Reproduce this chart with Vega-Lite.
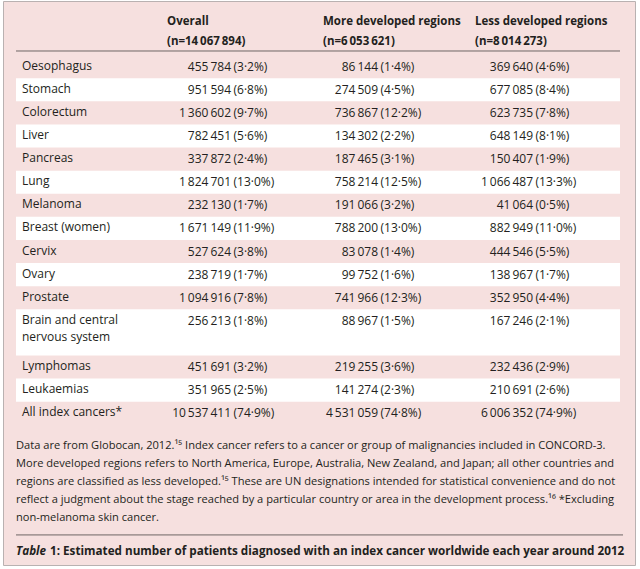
{
  "$schema": "https://vega.github.io/schema/vega-lite/v6.json",
  "width": 632,
  "height": 564,
  "autosize": {"type": "none"},
  "padding": {"left": 3, "top": 1, "right": 5, "bottom": 4},
  "background": "#ffffff",
  "config": {
    "view": {"fill": "#f6e0df", "stroke": "#b9b1b1", "strokeWidth": 1},
    "locale": {"number": {"decimal": "·", "thousands": "\u2009", "grouping": [3], "currency": ["", ""]}},
    "text": {"font": "Open Sans", "fontSize": 12, "fill": "#231f20"}
  },
  "datasets": {
    "cancers": [
      {"row": 1, "line": 1, "lines": 1, "label": "Oesophagus", "overall": 455784, "overall_pct": 3.2, "more": 86144, "more_pct": 1.4, "less": 369640, "less_pct": 4.6},
      {"row": 2, "line": 2, "lines": 1, "label": "Stomach", "overall": 951594, "overall_pct": 6.8, "more": 274509, "more_pct": 4.5, "less": 677085, "less_pct": 8.4},
      {"row": 3, "line": 3, "lines": 1, "label": "Colorectum", "overall": 1360602, "overall_pct": 9.7, "more": 736867, "more_pct": 12.2, "less": 623735, "less_pct": 7.8},
      {"row": 4, "line": 4, "lines": 1, "label": "Liver", "overall": 782451, "overall_pct": 5.6, "more": 134302, "more_pct": 2.2, "less": 648149, "less_pct": 8.1},
      {"row": 5, "line": 5, "lines": 1, "label": "Pancreas", "overall": 337872, "overall_pct": 2.4, "more": 187465, "more_pct": 3.1, "less": 150407, "less_pct": 1.9},
      {"row": 6, "line": 6, "lines": 1, "label": "Lung", "overall": 1824701, "overall_pct": 13.0, "more": 758214, "more_pct": 12.5, "less": 1066487, "less_pct": 13.3},
      {"row": 7, "line": 7, "lines": 1, "label": "Melanoma", "overall": 232130, "overall_pct": 1.7, "more": 191066, "more_pct": 3.2, "less": 41064, "less_pct": 0.5},
      {"row": 8, "line": 8, "lines": 1, "label": "Breast (women)", "overall": 1671149, "overall_pct": 11.9, "more": 788200, "more_pct": 13.0, "less": 882949, "less_pct": 11.0},
      {"row": 9, "line": 9, "lines": 1, "label": "Cervix", "overall": 527624, "overall_pct": 3.8, "more": 83078, "more_pct": 1.4, "less": 444546, "less_pct": 5.5},
      {"row": 10, "line": 10, "lines": 1, "label": "Ovary", "overall": 238719, "overall_pct": 1.7, "more": 99752, "more_pct": 1.6, "less": 138967, "less_pct": 1.7},
      {"row": 11, "line": 11, "lines": 1, "label": "Prostate", "overall": 1094916, "overall_pct": 7.8, "more": 741966, "more_pct": 12.3, "less": 352950, "less_pct": 4.4},
      {"row": 12, "line": 12, "lines": 2, "label": "Brain and central\nnervous system", "overall": 256213, "overall_pct": 1.8, "more": 88967, "more_pct": 1.5, "less": 167246, "less_pct": 2.1},
      {"row": 13, "line": 14, "lines": 1, "label": "Lymphomas", "overall": 451691, "overall_pct": 3.2, "more": 219255, "more_pct": 3.6, "less": 232436, "less_pct": 2.9},
      {"row": 14, "line": 15, "lines": 1, "label": "Leukaemias", "overall": 351965, "overall_pct": 2.5, "more": 141274, "more_pct": 2.3, "less": 210691, "less_pct": 2.6},
      {"row": 15, "line": 16, "lines": 1, "label": "All index cancers*", "overall": 10537411, "overall_pct": 74.9, "more": 4531059, "more_pct": 74.8, "less": 6006352, "less_pct": 74.9}
    ],
    "regions": [
      {"region": "Overall", "n": 14067894},
      {"region": "More developed regions", "n": 6053621},
      {"region": "Less developed regions", "n": 8014273}
    ],
    "notes": [
      {"text": "Data are from Globocan, 2012.¹⁵ Index cancer refers to a cancer or group of malignancies included in CONCORD-3.\nMore developed regions refers to North America, Europe, Australia, New Zealand, and Japan; all other countries and\nregions are classified as less developed.¹⁵ These are UN designations intended for statistical convenience and do not\nreflect a judgment about the stage reached by a particular country or area in the development process.¹⁶ *Excluding\nnon-melanoma skin cancer."}
    ],
    "caption": [
      {"tag": "Table", "rest": "1: Estimated number of patients diagnosed with an index cancer worldwide each year around 2012"}
    ],
    "blank": [{}]
  },
  "data": {"name": "cancers"},
  "layer": [
    {
      "transform": [
        {"filter": "datum.row % 2 == 0"},
        {"calculate": "datum.line - 0.5", "as": "top"},
        {"calculate": "datum.line + datum.lines - 0.5", "as": "bottom"}
      ],
      "mark": {"type": "rect", "fill": "#ffffff"},
      "encoding": {
        "x": {"datum": 0, "type": "quantitative", "scale": {"domain": [0, 4], "range": [13, 617], "nice": false, "zero": false}, "axis": null},
        "x2": {"datum": 4},
        "y": {"field": "top", "type": "quantitative", "scale": {"domain": [-2, 22], "range": [-3.6, 550.8], "nice": false, "zero": false}, "axis": null},
        "y2": {"field": "bottom"}
      }
    },
    {
      "data": {"name": "blank"},
      "mark": {"type": "rule", "stroke": "#6d6565", "strokeWidth": 1},
      "encoding": {
        "x": {"datum": 0, "type": "quantitative"},
        "x2": {"datum": 4},
        "y": {"datum": 0.32, "type": "quantitative"}
      }
    },
    {
      "data": {"name": "blank"},
      "mark": {"type": "rule", "stroke": "#6d6565", "strokeWidth": 1},
      "encoding": {
        "x": {"datum": 0, "type": "quantitative"},
        "x2": {"datum": 4.02},
        "y": {"datum": 21.27, "type": "quantitative"}
      }
    },
    {
      "mark": {"type": "text", "align": "left", "baseline": "top", "dx": 6, "dy": -6, "lineBreak": "\n", "lineHeight": 17},
      "encoding": {
        "x": {"datum": 0, "type": "quantitative"},
        "y": {"field": "line", "type": "quantitative"},
        "text": {"field": "label", "type": "nominal"}
      }
    },
    {
      "mark": {"type": "text", "align": "right", "baseline": "middle", "dx": 64},
      "encoding": {
        "x": {"datum": 1, "type": "quantitative"},
        "y": {"field": "line", "type": "quantitative"},
        "text": {"field": "overall", "type": "quantitative", "format": ","}
      }
    },
    {
      "transform": [{"calculate": "'(' + format(datum.overall_pct, '.1f') + '%)'", "as": "p"}],
      "mark": {"type": "text", "align": "left", "baseline": "middle", "dx": 66.5},
      "encoding": {
        "x": {"datum": 1, "type": "quantitative"},
        "y": {"field": "line", "type": "quantitative"},
        "text": {"field": "p", "type": "nominal"}
      }
    },
    {
      "mark": {"type": "text", "align": "right", "baseline": "middle", "dx": 60},
      "encoding": {
        "x": {"datum": 2, "type": "quantitative"},
        "y": {"field": "line", "type": "quantitative"},
        "text": {"field": "more", "type": "quantitative", "format": ","}
      }
    },
    {
      "transform": [{"calculate": "'(' + format(datum.more_pct, '.1f') + '%)'", "as": "p"}],
      "mark": {"type": "text", "align": "left", "baseline": "middle", "dx": 62.5},
      "encoding": {
        "x": {"datum": 2, "type": "quantitative"},
        "y": {"field": "line", "type": "quantitative"},
        "text": {"field": "p", "type": "nominal"}
      }
    },
    {
      "mark": {"type": "text", "align": "right", "baseline": "middle", "dx": 64},
      "encoding": {
        "x": {"datum": 3, "type": "quantitative"},
        "y": {"field": "line", "type": "quantitative"},
        "text": {"field": "less", "type": "quantitative", "format": ","}
      }
    },
    {
      "transform": [{"calculate": "'(' + format(datum.less_pct, '.1f') + '%)'", "as": "p"}],
      "mark": {"type": "text", "align": "left", "baseline": "middle", "dx": 66.5},
      "encoding": {
        "x": {"datum": 3, "type": "quantitative"},
        "y": {"field": "line", "type": "quantitative"},
        "text": {"field": "p", "type": "nominal"}
      }
    },
    {
      "data": {"name": "regions"},
      "transform": [
        {"filter": "datum.region == 'Overall'"},
        {"calculate": "datum.region + '\\n(n=' + format(datum.n, ',') + ')'", "as": "h"}
      ],
      "mark": {"type": "text", "align": "left", "baseline": "top", "dy": -4.5, "fontSize": 11.5, "fontWeight": "bold", "lineBreak": "\n", "lineHeight": 20},
      "encoding": {
        "x": {"datum": 1, "type": "quantitative"},
        "y": {"datum": -1, "type": "quantitative"},
        "text": {"field": "h", "type": "nominal"}
      }
    },
    {
      "data": {"name": "regions"},
      "transform": [
        {"filter": "datum.region == 'More developed regions'"},
        {"calculate": "datum.region + '\\n(n=' + format(datum.n, ',') + ')'", "as": "h"}
      ],
      "mark": {"type": "text", "align": "left", "baseline": "top", "dx": 5, "dy": -4.5, "fontSize": 11.5, "fontWeight": "bold", "lineBreak": "\n", "lineHeight": 20},
      "encoding": {
        "x": {"datum": 2, "type": "quantitative"},
        "y": {"datum": -1, "type": "quantitative"},
        "text": {"field": "h", "type": "nominal"}
      }
    },
    {
      "data": {"name": "regions"},
      "transform": [
        {"filter": "datum.region == 'Less developed regions'"},
        {"calculate": "datum.region + '\\n(n=' + format(datum.n, ',') + ')'", "as": "h"}
      ],
      "mark": {"type": "text", "align": "left", "baseline": "top", "dx": 6, "dy": -4.5, "fontSize": 11.5, "fontWeight": "bold", "lineBreak": "\n", "lineHeight": 20},
      "encoding": {
        "x": {"datum": 3, "type": "quantitative"},
        "y": {"datum": -1, "type": "quantitative"},
        "text": {"field": "h", "type": "nominal"}
      }
    },
    {
      "data": {"name": "notes"},
      "mark": {"type": "text", "align": "left", "baseline": "top", "fontSize": 11.1, "dy": -5.4, "lineBreak": "\n", "lineHeight": 18.1},
      "encoding": {
        "x": {"datum": 0, "type": "quantitative"},
        "y": {"datum": 17.38, "type": "quantitative"},
        "text": {"field": "text", "type": "nominal"}
      }
    },
    {
      "data": {"name": "caption"},
      "mark": {"type": "text", "align": "left", "baseline": "middle", "fontSize": 11.7, "fontWeight": "bold", "fontStyle": "italic"},
      "encoding": {
        "x": {"datum": 0, "type": "quantitative"},
        "y": {"datum": 21.97, "type": "quantitative"},
        "text": {"field": "tag", "type": "nominal"}
      }
    },
    {
      "data": {"name": "caption"},
      "mark": {"type": "text", "align": "left", "baseline": "middle", "fontSize": 11.7, "fontWeight": "bold", "dx": 34},
      "encoding": {
        "x": {"datum": 0, "type": "quantitative"},
        "y": {"datum": 21.97, "type": "quantitative"},
        "text": {"field": "rest", "type": "nominal"}
      }
    }
  ]
}
